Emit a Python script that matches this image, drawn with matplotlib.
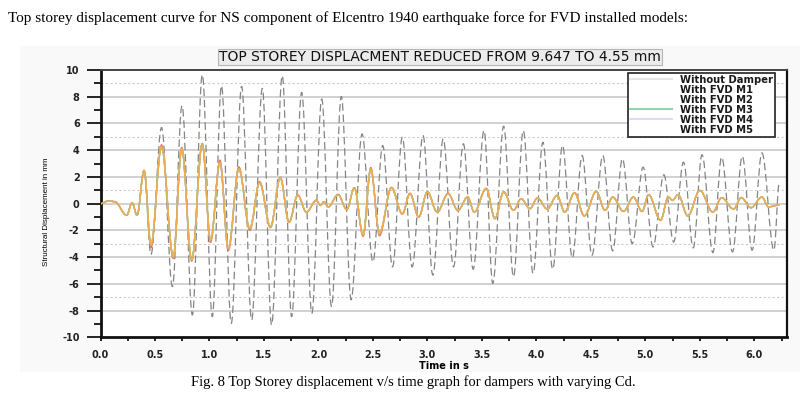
import numpy as np
import matplotlib
matplotlib.use('Agg')
import matplotlib.pyplot as plt
from matplotlib.lines import Line2D
from matplotlib.patches import Rectangle, PathPatch
from matplotlib.path import Path
from matplotlib.ticker import MultipleLocator

# peaks / troughs (time in s, displacement in mm)
t_nodamp = [0.00, 0.07, 0.13, 0.24, 0.29, 0.335, 0.40, 0.463, 0.56, 0.66,
            0.748, 0.843, 0.934, 1.026, 1.11, 1.20, 1.295, 1.387, 1.485, 1.57,
            1.668, 1.754, 1.846, 1.94, 2.03, 2.12, 2.21, 2.30, 2.40, 2.50,
            2.59, 2.68, 2.77, 2.86, 2.96, 3.05, 3.145, 3.24, 3.33, 3.42,
            3.52, 3.60, 3.70, 3.79, 3.88, 3.97, 4.06, 4.15, 4.24, 4.33,
            4.42, 4.51, 4.61, 4.70, 4.79, 4.88, 4.98, 5.07, 5.17, 5.26,
            5.35, 5.44, 5.52, 5.62, 5.70, 5.80, 5.89, 5.98, 6.07, 6.18,
            6.23]
y_nodamp = [0.0, 0.2, 0.15, -0.87, 0.07, -0.87, 2.46, -3.8, 5.7, -6.2,
            7.33, -8.34, 9.647, -8.46, 8.83, -8.96, 8.78, -8.7, 8.63, -9.08,
            9.58, -8.46, 8.33, -8.2, 7.84, -7.7, 8.03, -7.2, 5.22, -4.36,
            4.35, -4.73, 4.97, -4.73, 5.1, -5.35, 4.85, -4.73, 4.48, -4.9,
            5.47, -5.97, 5.8, -5.47, 5.47, -5.22, 4.6, -4.9, 4.35, -4.06,
            3.6, -3.86, 3.6, -3.53, 3.36, -2.99, 2.73, -3.24, 2.16, -2.87,
            3.1, -3.31, 3.66, -3.66, 3.48, -3.61, 3.55, -3.48, 3.8, -3.48,
            1.6]

t_fvd = [0.00, 0.07, 0.13, 0.24, 0.29, 0.335, 0.40, 0.463, 0.56, 0.668,
         0.745, 0.837, 0.934, 1.01, 1.096, 1.173, 1.27, 1.37, 1.46, 1.56,
         1.65, 1.73, 1.81, 1.89, 1.98, 2.02, 2.05, 2.09, 2.18, 2.26,
         2.33, 2.41, 2.48, 2.56, 2.67, 2.77, 2.84, 2.92, 3.00, 3.09,
         3.19, 3.28, 3.37, 3.43, 3.54, 3.62, 3.70, 3.79, 3.86, 3.94,
         4.01, 4.10, 4.19, 4.26, 4.35, 4.44, 4.55, 4.63, 4.70, 4.80,
         4.89, 4.97, 5.03, 5.14, 5.21, 5.25, 5.30, 5.39, 5.50, 5.62,
         5.70, 5.81, 5.88, 5.97, 6.07, 6.13, 6.23]
m1 = [0.0, 0.2, 0.15, -0.87, 0.07, -0.87, 2.5, -3.3, 4.4, -4.1,
      4.2, -4.3, 4.5, -2.9, 3.25, -3.5, 2.75, -2.0, 1.65, -1.8,
      1.98, -1.4, 0.66, -0.66, 0.25, -0.13, 0.15, -0.25, 0.7, -0.45,
      1.2, -2.45, 2.7, -2.4, 1.22, -0.78, 0.78, -1.02, 0.9, -0.65,
      0.78, -0.52, 0.5, -0.63, 1.15, -1.12, 0.9, -0.5, 0.37, -0.37,
      0.42, -0.4, 0.62, -0.63, 0.82, -0.92, 0.92, -0.5, 0.49, -0.58,
      0.49, -0.58, 0.67, -1.25, 0.49, 0.25, 0.67, -0.92, 0.99, -0.63,
      0.45, -0.4, 0.45, -0.3, 0.5, -0.24, -0.1]
m2 = [0.0, 0.2, 0.15, -0.87, 0.07, -0.87, 2.44, -3.0, 4.2, -3.9,
      4.05, -4.15, 4.4, -2.7, 3.0, -3.3, 2.55, -1.82, 1.55, -1.7,
      1.9, -1.35, 0.6, -0.62, 0.25, -0.13, 0.15, -0.25, 0.66, -0.42,
      1.15, -2.3, 2.5, -2.15, 1.17, -0.74, 0.74, -0.98, 0.85, -0.62,
      0.74, -0.5, 0.5, -0.62, 1.1, -1.1, 0.85, -0.5, 0.37, -0.37,
      0.42, -0.4, 0.6, -0.62, 0.8, -0.9, 0.9, -0.5, 0.48, -0.57,
      0.48, -0.57, 0.66, -1.22, 0.48, 0.25, 0.66, -0.9, 0.97, -0.62,
      0.44, -0.4, 0.44, -0.3, 0.49, -0.24, -0.1]
m3 = [0.0, 0.2, 0.15, -0.87, 0.07, -0.87, 2.46, -3.1, 4.28, -4.0,
      4.1, -4.23, 4.48, -2.74, 3.1, -3.36, 2.6, -1.87, 1.57, -1.74,
      1.94, -1.37, 0.62, -0.63, 0.25, -0.13, 0.15, -0.25, 0.67, -0.43,
      1.17, -2.37, 2.6, -2.24, 1.19, -0.75, 0.75, -1.0, 0.87, -0.63,
      0.75, -0.5, 0.5, -0.63, 1.12, -1.12, 0.87, -0.5, 0.37, -0.37,
      0.42, -0.4, 0.62, -0.63, 0.82, -0.92, 0.92, -0.5, 0.49, -0.58,
      0.49, -0.58, 0.67, -1.25, 0.49, 0.25, 0.67, -0.92, 0.99, -0.63,
      0.45, -0.4, 0.45, -0.3, 0.5, -0.24, -0.1]
m4 = [0.0, 0.2, 0.15, -0.87, 0.07, -0.87, 2.45, -3.05, 4.25, -3.95,
      4.08, -4.2, 4.46, -2.72, 3.05, -3.33, 2.58, -1.85, 1.56, -1.72,
      1.92, -1.36, 0.61, -0.63, 0.25, -0.13, 0.15, -0.25, 0.66, -0.43,
      1.16, -2.34, 2.56, -2.2, 1.18, -0.75, 0.75, -1.0, 0.86, -0.63,
      0.75, -0.5, 0.5, -0.63, 1.11, -1.11, 0.86, -0.5, 0.37, -0.37,
      0.42, -0.4, 0.61, -0.63, 0.81, -0.91, 0.91, -0.5, 0.49, -0.58,
      0.49, -0.58, 0.67, -1.24, 0.49, 0.25, 0.67, -0.91, 0.98, -0.63,
      0.45, -0.4, 0.45, -0.3, 0.5, -0.24, -0.1]
m5 = [0.0, 0.2, 0.15, -0.87, 0.07, -0.87, 2.47, -3.15, 4.3, -4.05,
      4.12, -4.25, 4.5, -2.78, 3.12, -3.4, 2.62, -1.9, 1.58, -1.75,
      1.95, -1.38, 0.63, -0.64, 0.25, -0.13, 0.15, -0.25, 0.68, -0.44,
      1.18, -2.4, 2.62, -2.27, 1.2, -0.76, 0.76, -1.01, 0.88, -0.64,
      0.76, -0.51, 0.5, -0.63, 1.13, -1.12, 0.88, -0.5, 0.37, -0.37,
      0.42, -0.4, 0.62, -0.63, 0.82, -0.92, 0.92, -0.5, 0.49, -0.58,
      0.49, -0.58, 0.67, -1.25, 0.49, 0.25, 0.67, -0.92, 0.99, -0.63,
      0.45, -0.4, 0.45, -0.3, 0.5, -0.24, -0.1]

labels = ['Without Damper', 'With FVD M1', 'With FVD M2', 'With FVD M3',
          'With FVD M4', 'With FVD M5']
x_ticks = [0.0, 0.5, 1.0, 1.5, 2.0, 2.5, 3.0, 3.5, 4.0, 4.5, 5.0, 5.5, 6.0]
y_ticks = [-10, -8, -6, -4, -2, 0, 2, 4, 6, 8, 10]


def smooth_path(xs, ys):
    # curve through the extrema with flat tangents at each peak/trough
    verts = [(xs[0], ys[0])]
    codes = [Path.MOVETO]
    for i in range(1, len(xs)):
        dx = (xs[i] - xs[i - 1]) * 0.364
        verts += [(xs[i - 1] + dx, ys[i - 1]), (xs[i] - dx, ys[i]), (xs[i], ys[i])]
        codes += [Path.CURVE4] * 3
    return Path(verts, codes)


fig = plt.figure(figsize=(8.06, 3.94), dpi=100)
fig.patches.append(Rectangle((20 / 806, 1 - 372 / 394), 780 / 806, 326 / 394,
                             transform=fig.transFigure, facecolor='#f9f9f9',
                             edgecolor='none', zorder=-5))
ax = fig.add_axes([0.1247, 0.1439, 0.8517, 0.6784])

# horizontal grid: solid at even values, dotted in between
for v in [-8, -6, -4, -2, 0, 2, 4, 6, 8]:
    ax.axhline(v, color='#c9c9c9', lw=1.2, zorder=0)
for v in [-7, -3, 1, 5, 9]:
    ax.axhline(v, color='#cccccc', lw=0.8, ls=(0, (2, 2)), zorder=0)

ax.add_patch(PathPatch(smooth_path(t_nodamp, y_nodamp), fill=False,
                       edgecolor='#858585', lw=0.9, ls=(0, (6, 3)), zorder=2))
fvd_colors = ['#e8736c', '#6fa8dc', '#7fcf9f', '#f2cf5b', '#f39c4a']
fvd_alpha = [1.0, 1.0, 1.0, 0.9, 0.7]
for vals, c, a in zip([m1, m2, m3, m4, m5], fvd_colors, fvd_alpha):
    ax.add_patch(PathPatch(smooth_path(t_fvd, vals), fill=False,
                           edgecolor=c, lw=1.0, alpha=a, zorder=3))

ax.set_xlim(0, 6.30)
ax.set_ylim(-10, 10)
ax.set_xticks(x_ticks)
ax.set_xticklabels(['%.1f' % v for v in x_ticks])
ax.xaxis.set_minor_locator(MultipleLocator(0.25))
ax.set_yticks(y_ticks)
ax.set_yticklabels([str(v) for v in y_ticks])
ax.yaxis.set_minor_locator(MultipleLocator(1))
ax.tick_params(axis='x', which='both', direction='out', length=3, width=1.2,
               pad=6, labelsize=7)
ax.tick_params(axis='y', which='major', direction='out', length=10, width=1.2,
               pad=5, labelsize=7)
ax.tick_params(axis='y', which='minor', direction='out', length=5, width=1.2)
for lbl in ax.get_xticklabels() + ax.get_yticklabels():
    lbl.set_fontweight('bold')
    lbl.set_color('#222222')

for side, lw in [('left', 2.0), ('bottom', 2.0), ('right', 1.6), ('top', 1.4)]:
    ax.spines[side].set_linewidth(lw)
    ax.spines[side].set_color('#111111' if side != 'top' else '#444444')

ax.set_xlabel('Time in s', fontsize=7, fontweight='bold', labelpad=1)

# legend swatches as they appear in the source (mostly washed out)
handle_colors = ['#e6e6e6', '#ffffff', '#ffffff', '#8fd6b0', '#dcdcf2', '#ffffff']
handles = [Line2D([], [], color=c, lw=1.5) for c in handle_colors]
leg = ax.legend(handles, labels, loc='upper right', bbox_to_anchor=(0.9825, 0.989),
                borderaxespad=0, prop={'size': 7.2, 'weight': 'bold'},
                labelspacing=0.0, handlelength=4.2, handletextpad=0.8,
                borderpad=0.2, fancybox=False, edgecolor='#222222', framealpha=1)
leg.get_frame().set_linewidth(1.2)
for txt in leg.get_texts():
    txt.set_color('#1a1a1a')

fig.text(440 / 806, 1 - 57 / 394, 'TOP STOREY DISPLACMENT REDUCED FROM 9.647 TO 4.55 mm',
         ha='center', va='center', fontsize=10, color='#111111',
         bbox=dict(facecolor='#ececec', edgecolor='#b5b5b5', lw=0.8, pad=1.0))
fig.text(46 / 806, 1 - 212 / 394, 'Structural Displacement in mm', rotation=90,
         ha='center', va='center', fontsize=5.8, family='Liberation Sans')
fig.text(8 / 806, 1 - 18 / 394,
         'Top storey displacement curve for NS component of Elcentro 1940 earthquake force for FVD installed models:',
         ha='left', va='center', fontsize=11, family='Liberation Serif')
fig.text(413 / 806, 1 - 382 / 394,
         'Fig. 8 Top Storey displacement v/s time graph for dampers with varying Cd.',
         ha='center', va='center', fontsize=10.5, family='Liberation Serif')

fig.savefig('out.png', dpi=100)
